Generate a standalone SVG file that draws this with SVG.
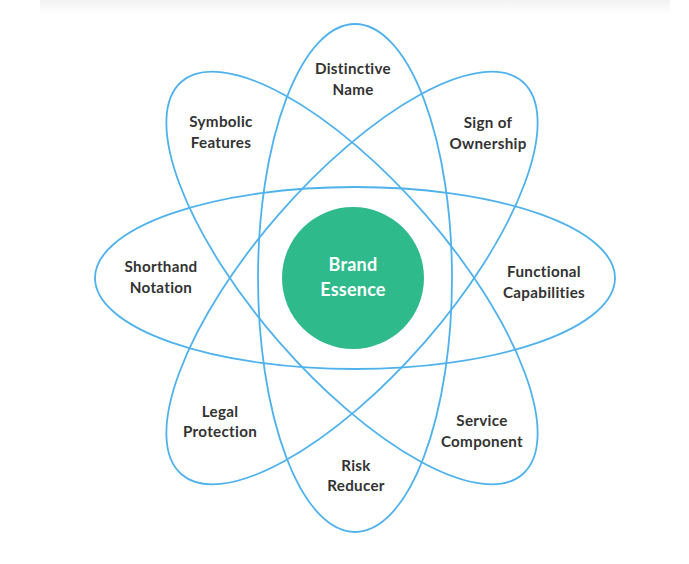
<svg xmlns="http://www.w3.org/2000/svg" width="689" height="564" viewBox="0 0 689 564">
  <defs>
    <linearGradient id="topband" x1="0" y1="0" x2="0" y2="1">
      <stop offset="0" stop-color="#f2f2f2"/>
      <stop offset="1" stop-color="#ffffff"/>
    </linearGradient>
  </defs>
  <style>
    .orbit { fill: none; stroke: #4fb2ec; stroke-width: 1.8; }
    .label { font-family: Lato, "Open Sans", "Liberation Sans", sans-serif; font-weight: 700; font-size: 15.2px; letter-spacing: 0.3px; fill: #333333; text-anchor: middle; }
    .core { fill: #2fba8b; }
    .core-text { font-family: Lato, "Open Sans", "Liberation Sans", sans-serif; font-weight: 700; font-size: 18px; letter-spacing: 0.2px; fill: #ffffff; text-anchor: middle; }
  </style>
  <rect x="0" y="0" width="689" height="564" fill="#ffffff"/>
  <rect x="40" y="0" width="630" height="14" fill="url(#topband)"/>

  <g id="orbits">
    <ellipse class="orbit" cx="355" cy="278" rx="260" ry="91"/>
    <ellipse class="orbit" cx="355" cy="278" rx="97" ry="254"/>
    <ellipse class="orbit" cx="352" cy="278" rx="97" ry="260" transform="rotate(-41 352 278)"/>
    <ellipse class="orbit" cx="352" cy="278" rx="97" ry="260" transform="rotate(41 352 278)"/>
  </g>

  <g id="brand-essence">
    <circle class="core" cx="353" cy="278" r="71"/>
    <text class="core-text" x="353" y="271">Brand</text>
    <text class="core-text" x="353" y="296">Essence</text>
  </g>

  <g id="distinctive-name">
    <text class="label" x="353" y="74">Distinctive</text>
    <text class="label" x="353" y="95">Name</text>
  </g>
  <g id="symbolic-features">
    <text class="label" x="221" y="127">Symbolic</text>
    <text class="label" x="221" y="148">Features</text>
  </g>
  <g id="sign-of-ownership">
    <text class="label" x="488" y="128">Sign of</text>
    <text class="label" x="488" y="149">Ownership</text>
  </g>
  <g id="shorthand-notation">
    <text class="label" x="161" y="272">Shorthand</text>
    <text class="label" x="161" y="293">Notation</text>
  </g>
  <g id="functional-capabilities">
    <text class="label" x="544" y="277">Functional</text>
    <text class="label" x="544" y="298">Capabilities</text>
  </g>
  <g id="legal-protection">
    <text class="label" x="220" y="417">Legal</text>
    <text class="label" x="220" y="437">Protection</text>
  </g>
  <g id="risk-reducer">
    <text class="label" x="356" y="471">Risk</text>
    <text class="label" x="356" y="491">Reducer</text>
  </g>
  <g id="service-component">
    <text class="label" x="482" y="426">Service</text>
    <text class="label" x="482" y="447">Component</text>
  </g>
</svg>
